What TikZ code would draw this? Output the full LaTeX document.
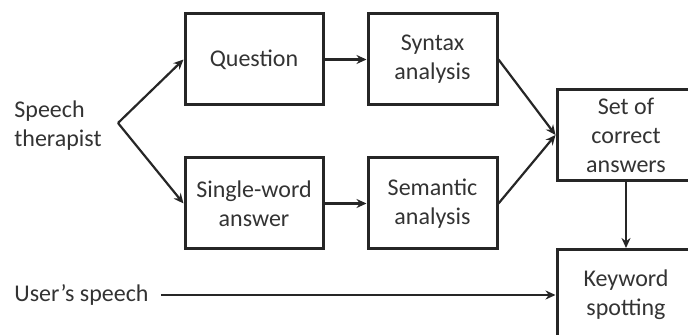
\documentclass[tikz,border=0pt]{standalone}
\usepackage{fontspec}
\setmainfont{Carlito}
\usetikzlibrary{arrows.meta, positioning}

\begin{document}
\begin{tikzpicture}[x=0.5pt, y=-0.5pt,
    font=\fontsize{12}{14.5}\selectfont, text=black!80,
    box/.style={draw=black!85, line width=1.5pt, minimum height=45.5pt,
        minimum width=69pt, align=center, inner sep=1pt},
    flow/.style={draw=black!85, line width=1.1pt, -{Stealth[length=5pt, width=4.5pt]}}]
    \useasboundingbox (0,0) rectangle (688,335);
    \clip (0,0) rectangle (688,335);
    \node[box] (question) at (254,59.5) {Question};
    \node[box] (single) at (254,203.5) {Single-word\\answer};
    \node[box, minimum width=64.5pt] (syntax) at (432.5,59.5) {Syntax\\analysis};
    \node[box, minimum width=64.5pt] (semantic) at (432.5,203.5) {Semantic\\analysis};
    \node[box] (answers) at (626,135) {Set of\\correct\\answers};
    \node[box] (keyword) at (626,295) {Keyword\\spotting};
    \node[anchor=west, align=left, inner sep=0pt] (therapist) at (14,126) {Speech\\therapist};
    \node[anchor=west, inner sep=0pt] (user) at (14,295) {User's speech};
    \coordinate (fork) at (118,123);
    \draw[flow] (fork) -- (question.west);
    \draw[flow] (fork) -- (single.west);
    \draw[flow] (question) -- (syntax);
    \draw[flow] (single) -- (semantic);
    \draw[flow] (syntax.east) -- (answers.west);
    \draw[flow] (semantic.east) -- (answers.west);
    \draw[flow] (answers) -- (keyword);
    \draw[flow] ([xshift=6pt]user.east) -- (keyword.west);
\end{tikzpicture}
\end{document}
